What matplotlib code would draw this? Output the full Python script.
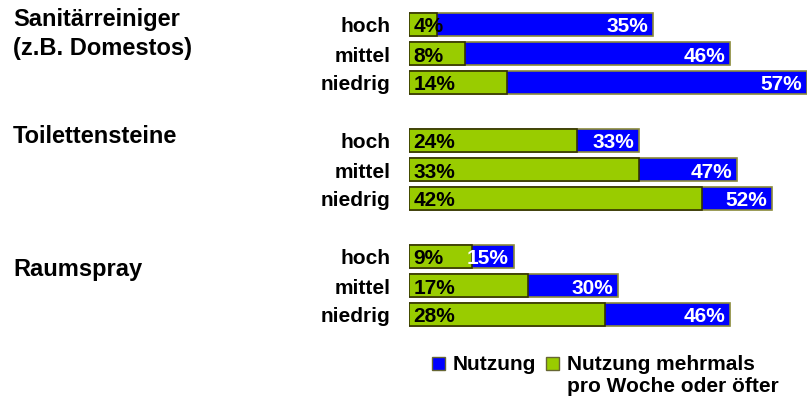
import matplotlib.pyplot as plt

plt.rcParams['font.family'] = ['Liberation Sans', 'DejaVu Sans']
plt.rcParams['font.weight'] = 'bold'

# data
groups = ["Sanitärreiniger\n(z.B. Domestos)", "Toilettensteine", "Raumspray"]
levels = ["hoch", "mittel", "niedrig"]
nutzung = [[35, 46, 57], [33, 47, 52], [15, 30, 46]]
mehrmals = [[4, 8, 14], [24, 33, 42], [9, 17, 28]]

blue = "#0000FF"
green = "#99CC00"

W, H = 810, 401
fig = plt.figure(figsize=(W / 100, H / 100), dpi=100)


def ftext(x, y, s, **kw):
    # place text by pixel position (from top-left)
    return fig.text(x / W, 1 - y / H, s, **kw)


# axes mapped to pixels: x 0..57 -> 409..807, rows 29px apart, first row centre y=24.5
row_h = 29.0
top_px = 24.5 - 0.5 * row_h
bot_px = 24.5 + 10.5 * row_h
ax = fig.add_axes([409 / W, 1 - bot_px / H, (807 - 409) / W, (bot_px - top_px) / H])
ax.set_xlim(0, 57)
ax.set_ylim(10.5, -0.5)
ax.axis("off")

base_off = 8.0 / row_h   # baseline sits 8px below bar centre
for g, name in enumerate(groups):
    for i, lev in enumerate(levels):
        y = g * 4 + i
        ax.barh(y, nutzung[g][i], height=0.76, color=blue, edgecolor="#8a8a3a", linewidth=1.2)
        ax.barh(y, mehrmals[g][i], height=0.76, color=green, edgecolor="#333300", linewidth=1.2)
        ax.text(0.6, y + base_off, f"{mehrmals[g][i]}%", ha="left", va="baseline",
                fontsize=15, fontweight="bold", color="black")
        ax.text(nutzung[g][i] - 0.7, y + base_off, f"{nutzung[g][i]}%", ha="right", va="baseline",
                fontsize=15, fontweight="bold", color="white")
        ax.text(-2.6, y + base_off, lev, ha="right", va="baseline", fontsize=15, fontweight="bold")

# group titles
ftext(13, 26, "Sanitärreiniger", ha="left", va="baseline", fontsize=17, fontweight="bold")
ftext(13, 55, "(z.B. Domestos)", ha="left", va="baseline", fontsize=17, fontweight="bold")
ftext(13, 143, groups[1], ha="left", va="baseline", fontsize=17, fontweight="bold")
ftext(13, 276, groups[2], ha="left", va="baseline", fontsize=17, fontweight="bold")

# legend
fig.patches.append(plt.Rectangle((432 / W, 1 - 370 / H), 13 / W, 13 / H, transform=fig.transFigure,
                                 facecolor=blue, edgecolor="#666633", linewidth=1))
ftext(453, 370, "Nutzung", ha="left", va="baseline", fontsize=15, fontweight="bold")
fig.patches.append(plt.Rectangle((546 / W, 1 - 370 / H), 13 / W, 13 / H, transform=fig.transFigure,
                                 facecolor=green, edgecolor="#666633", linewidth=1))
ftext(567, 370, "Nutzung mehrmals", ha="left", va="baseline", fontsize=15, fontweight="bold")
ftext(567, 392, "pro Woche oder öfter", ha="left", va="baseline", fontsize=15, fontweight="bold")

fig.savefig("out.png", dpi=100)
